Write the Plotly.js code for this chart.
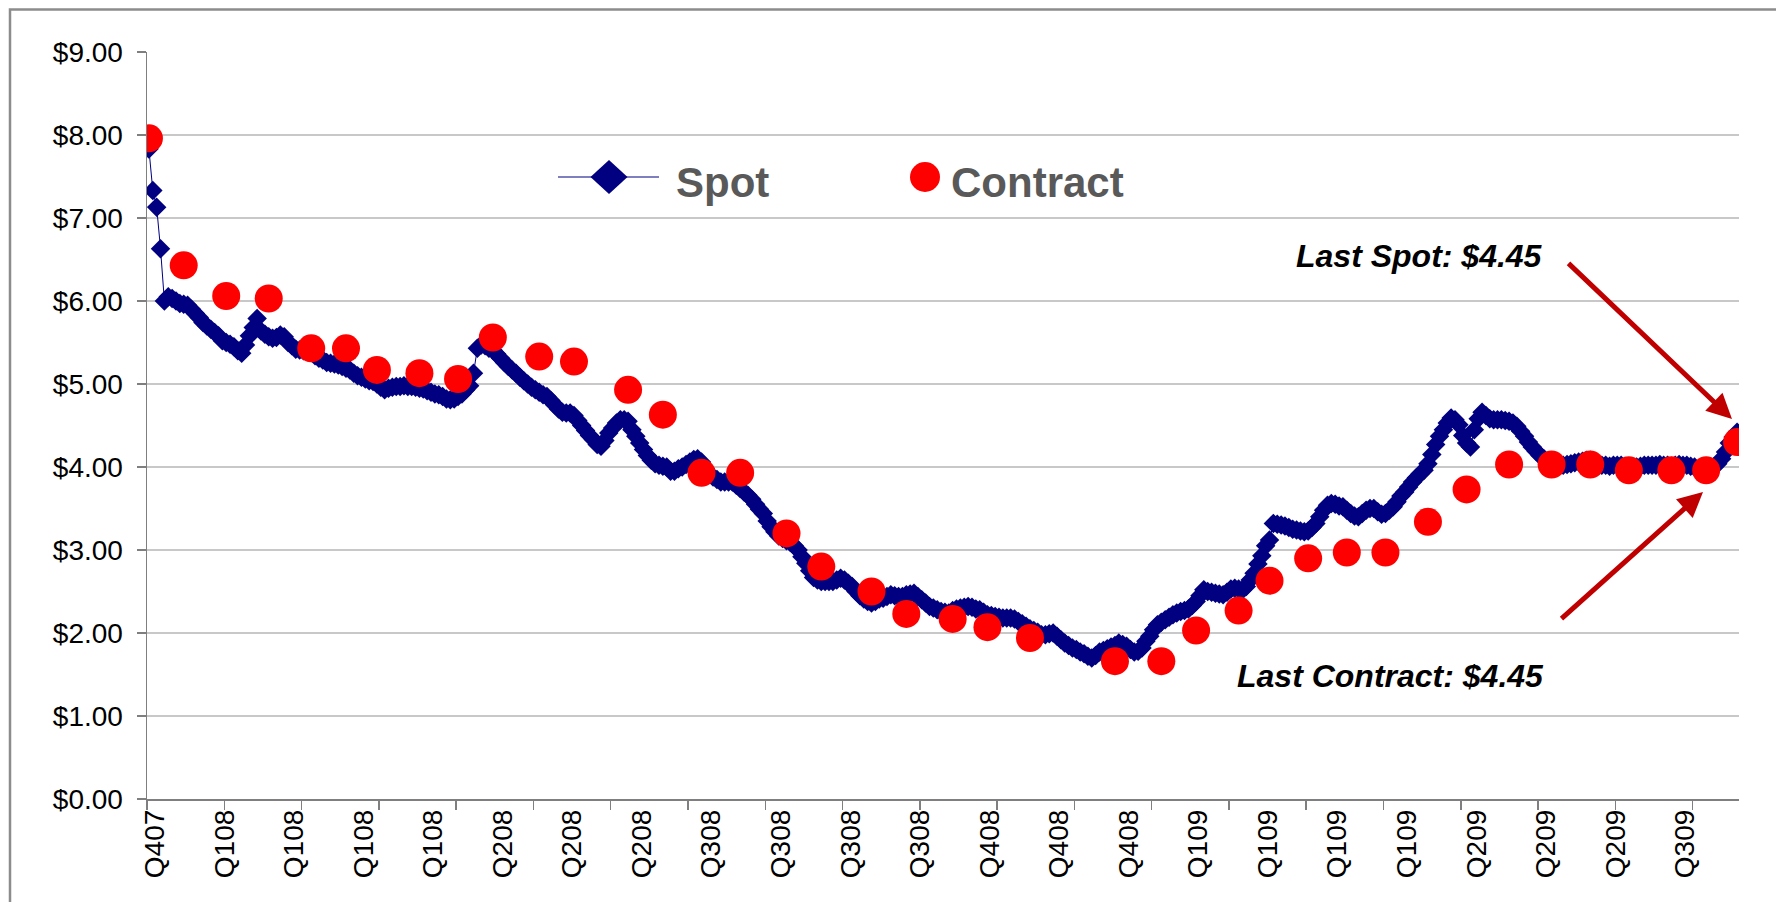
<!DOCTYPE html>
<html>
<head>
<meta charset="utf-8">
<script src="https://cdn.plot.ly/plotly-3.0.1.min.js"></script>
<style>
  html, body { margin: 0; padding: 0; background: #ffffff; }
  #chart { width: 1776px; height: 902px; }
</style>
</head>
<body>
<div id="chart"></div>
<script>
// ---- Data ----
// Spot price, one value per trading day (category index 0..411)
const spot = [
  7.83,7.33,7.13,6.63,6.00,6.05,6.03,6.00,5.97,5.96,
  5.95,5.90,5.85,5.80,5.74,5.70,5.66,5.62,5.58,5.52,
  5.50,5.48,5.45,5.40,5.37,5.47,5.58,5.68,5.79,5.64,
  5.60,5.57,5.55,5.56,5.59,5.57,5.50,5.46,5.42,5.41,
  5.40,5.39,5.38,5.34,5.31,5.29,5.26,5.25,5.24,5.23,
  5.21,5.19,5.17,5.13,5.10,5.08,5.06,5.04,5.03,5.00,
  4.96,4.93,4.95,4.96,4.97,4.97,4.98,4.97,4.97,4.96,
  4.95,4.94,4.92,4.90,4.88,4.87,4.85,4.82,4.81,4.82,
  4.85,4.88,4.93,4.98,5.13,5.43,5.47,5.46,5.43,5.41,
  5.36,5.31,5.26,5.21,5.17,5.13,5.08,5.04,5.00,4.96,
  4.93,4.90,4.87,4.85,4.80,4.75,4.70,4.66,4.65,4.65,
  4.62,4.56,4.50,4.44,4.38,4.33,4.27,4.25,4.32,4.41,
  4.47,4.53,4.57,4.57,4.55,4.45,4.37,4.29,4.21,4.14,
  4.08,4.04,4.02,4.01,4.00,3.95,3.95,3.98,4.00,4.03,
  4.06,4.09,4.10,4.06,3.98,3.92,3.88,3.85,3.82,3.82,
  3.82,3.82,3.78,3.74,3.70,3.66,3.61,3.55,3.49,3.44,
  3.35,3.28,3.22,3.17,3.14,3.11,3.09,3.05,3.00,2.92,
  2.84,2.75,2.67,2.64,2.62,2.62,2.62,2.62,2.64,2.66,
  2.64,2.60,2.56,2.50,2.45,2.41,2.38,2.36,2.38,2.41,
  2.42,2.44,2.46,2.45,2.44,2.44,2.46,2.47,2.48,2.44,
  2.40,2.36,2.32,2.30,2.28,2.26,2.25,2.24,2.27,2.29,
  2.30,2.31,2.32,2.31,2.29,2.28,2.25,2.22,2.21,2.20,
  2.19,2.18,2.18,2.18,2.17,2.14,2.11,2.08,2.05,2.03,
  2.01,1.98,1.98,1.99,2.00,1.96,1.92,1.88,1.85,1.82,
  1.80,1.77,1.75,1.72,1.70,1.73,1.77,1.79,1.81,1.83,
  1.85,1.88,1.86,1.84,1.80,1.77,1.78,1.82,1.90,1.96,
  2.04,2.10,2.13,2.16,2.19,2.22,2.24,2.26,2.27,2.29,
  2.33,2.38,2.45,2.52,2.50,2.49,2.48,2.47,2.46,2.49,
  2.53,2.54,2.53,2.52,2.56,2.64,2.72,2.83,2.93,3.05,
  3.12,3.32,3.31,3.30,3.29,3.27,3.25,3.24,3.23,3.22,
  3.23,3.27,3.32,3.40,3.48,3.54,3.56,3.55,3.53,3.52,
  3.48,3.44,3.41,3.40,3.44,3.48,3.50,3.50,3.46,3.43,
  3.44,3.48,3.52,3.58,3.65,3.70,3.76,3.82,3.87,3.92,
  3.96,4.04,4.15,4.27,4.37,4.45,4.53,4.59,4.57,4.51,
  4.38,4.29,4.24,4.45,4.58,4.66,4.62,4.58,4.57,4.57,
  4.57,4.56,4.55,4.53,4.49,4.43,4.37,4.30,4.24,4.19,
  4.14,4.10,4.07,4.04,4.03,4.02,4.02,4.03,4.04,4.05,
  4.06,4.07,4.08,4.08,4.06,4.04,4.02,4.02,4.01,4.02,
  4.02,4.02,4.01,4.00,4.00,4.00,4.01,4.02,4.02,4.02,
  4.02,4.03,4.02,4.02,4.01,4.02,4.03,4.02,4.02,4.01,
  4.00,3.98,3.97,3.96,3.98,4.00,4.04,4.10,4.18,4.29,4.36,4.42
];

// Contract price: category index where a contract price was posted, and its value
const contractIdx = [0,9,20,31,42,51,59,70,80,89,101,110,124,133,143,153,165,174,187,196,
                     208,217,228,250,262,271,282,290,300,310,320,331,341,352,363,373,383,394,403,411];
const contractVal = [7.96,6.43,6.06,6.03,5.43,5.43,5.17,5.13,5.06,5.56,5.33,5.27,4.93,4.63,3.93,3.93,3.20,2.80,2.50,2.23,
                     2.17,2.07,1.94,1.66,1.66,2.03,2.27,2.63,2.90,2.97,2.97,3.34,3.73,4.03,4.03,4.03,3.96,3.96,3.96,4.30];

// Category-axis labels (every 18th category) and their category positions
const tickLabels = ["Q407","Q108","Q108","Q108","Q108","Q208","Q208","Q208","Q308","Q308","Q308","Q308",
                    "Q408","Q408","Q408","Q109","Q109","Q109","Q109","Q209","Q209","Q209","Q309"];
const tickLabelIdx = [0,18,36,54,72,90,108,126,144,162,180,198,216,234,252,270,288,306,324,342,360,378,396];

const seriesNames = ["Spot", "Contract"];
const lastSpotText = "Last Spot: $4.45";
const lastContractText = "Last Contract: $4.45";

// ---- Chart ----
const FONT = "Liberation Sans, Arial, Helvetica, sans-serif";
const NAVY = "#000080";
const RED = "#FF0000";
const ARROW = "#C00000";

const spotTrace = {
  type: "scatter",
  mode: "lines+markers",
  name: seriesNames[0],
  x: spot.map((v, i) => i),
  y: spot,
  line: { color: NAVY, width: 1 },
  marker: { symbol: "diamond", size: 15, color: NAVY, line: { width: 0 } },
  hoverinfo: "skip",
  showlegend: false
};

const contractTrace = {
  type: "scatter",
  mode: "markers",
  name: seriesNames[1],
  x: contractIdx,
  y: contractVal,
  marker: { symbol: "circle", size: 28, color: RED, line: { width: 0 } },
  hoverinfo: "skip",
  showlegend: false
};

// plot area in page pixels: x 147..1739, y 52..799
const L = 147, R = 1739, T = 52, B = 799;
const px = x => (x - L) / (R - L);
const py = y => (B - y) / (B - T);

const layout = {
  width: 1776,
  height: 902,
  margin: { l: L, r: 1776 - R, t: T, b: 902 - B, pad: 0 },
  paper_bgcolor: "#ffffff",
  plot_bgcolor: "#ffffff",
  font: { family: FONT, color: "#000000", size: 28 },
  showlegend: false,
  xaxis: {
    type: "linear",
    range: [-0.5, spot.length - 0.5],
    tickmode: "array",
    tickvals: tickLabelIdx,
    ticktext: tickLabels,
    tickangle: -90,
    ticks: "",
    ticklabelstandoff: -2,
    ticklabelshift: 6,
    tickfont: { family: FONT, size: 28, color: "#000000" },
    showgrid: false,
    zeroline: false,
    showline: true,
    linecolor: "#7f7f7f",
    linewidth: 1.5,
    minor: { tickmode: "linear", tick0: -0.5, dtick: 20, ticks: "outside", ticklen: 9, tickwidth: 1.5, tickcolor: "#7f7f7f", showgrid: false },
    fixedrange: true
  },
  yaxis: {
    range: [0, 9],
    tickmode: "linear",
    tick0: 0,
    dtick: 1,
    tickformat: "$.2f",
    ticks: "outside",
    ticklen: 9,
    tickwidth: 1.5,
    tickcolor: "#7f7f7f",
    ticklabelstandoff: 8,
    tickfont: { family: FONT, size: 28, color: "#000000" },
    showgrid: true,
    gridcolor: "#c8c8c8",
    gridwidth: 1.5,
    zeroline: false,
    showline: true,
    linecolor: "#7f7f7f",
    linewidth: 1.5,
    fixedrange: true
  },
  shapes: [
    // outer chart border (top and left visible)
    { type: "rect", xref: "paper", yref: "paper", x0: px(10), x1: px(1800), y0: py(930), y1: py(9.5),
      line: { color: "#8c8c8c", width: 2.5 }, fillcolor: "rgba(0,0,0,0)", layer: "below" },
    // legend: Spot line + diamond
    { type: "line", xref: "paper", yref: "paper", x0: px(558), x1: px(659), y0: py(177), y1: py(177),
      line: { color: NAVY, width: 1.2 } },
    { type: "path", xref: "paper", yref: "paper", xsizemode: "pixel", ysizemode: "pixel",
      xanchor: px(609), yanchor: py(177), path: "M -18.5 0 L 0 17 L 18.5 0 L 0 -17 Z",
      fillcolor: NAVY, line: { width: 0 } },
    // legend: Contract circle
    { type: "circle", xref: "paper", yref: "paper", xsizemode: "pixel", ysizemode: "pixel",
      xanchor: px(925), yanchor: py(177), x0: -15, x1: 15, y0: -15, y1: 15,
      fillcolor: RED, line: { width: 0 } }
  ],
  annotations: [
    { xref: "paper", yref: "paper", x: px(674), y: py(182), xanchor: "left", yanchor: "middle",
      text: "<b>" + seriesNames[0] + "</b>", showarrow: false,
      font: { family: FONT, size: 42, color: "#595959" } },
    { xref: "paper", yref: "paper", x: px(949), y: py(182), xanchor: "left", yanchor: "middle",
      text: "<b>" + seriesNames[1] + "</b>", showarrow: false,
      font: { family: FONT, size: 42, color: "#595959" } },
    { xref: "paper", yref: "paper", x: px(1419), y: py(256), xanchor: "center", yanchor: "middle",
      text: "<b><i>" + lastSpotText + "</i></b>", showarrow: false,
      font: { family: FONT, size: 32, color: "#000000" } },
    { xref: "paper", yref: "paper", x: px(1390), y: py(676), xanchor: "center", yanchor: "middle",
      text: "<b><i>" + lastContractText + "</i></b>", showarrow: false,
      font: { family: FONT, size: 32, color: "#000000" } },
    // arrows
    { xref: "paper", yref: "paper", x: px(1732), y: py(419), text: "", showarrow: true,
      axref: "pixel", ayref: "pixel", ax: 1567 - 1732, ay: 262 - 419,
      arrowhead: 2, arrowsize: 1, arrowwidth: 5, arrowcolor: ARROW, standoff: 0 },
    { xref: "paper", yref: "paper", x: px(1703), y: py(492), text: "", showarrow: true,
      axref: "pixel", ayref: "pixel", ax: 1560 - 1703, ay: 620 - 492,
      arrowhead: 2, arrowsize: 1, arrowwidth: 5, arrowcolor: ARROW, standoff: 0 }
  ]
};

Plotly.newPlot("chart", [spotTrace, contractTrace], layout, { staticPlot: true, displayModeBar: false });
</script>
</body>
</html>
